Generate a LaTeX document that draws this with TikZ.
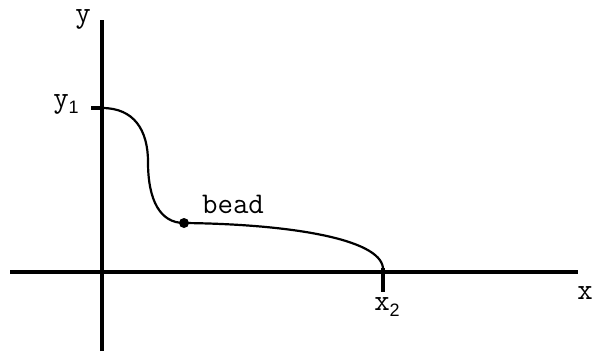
\documentclass[tikz,border=0pt]{standalone}
\usepackage{fontspec}
\newfontfamily\subfont{Liberation Sans}
\begin{document}
\begin{tikzpicture}[x=1pt,y=-1pt,
  axis/.style={line width=3.2pt},
  curve/.style={line width=2.2pt},
  lbl/.style={font=\ttfamily\fontsize{30}{30}\selectfont, inner sep=0pt}]
\useasboundingbox (0,0) rectangle (594,351);
% axes
\coordinate (ytop) at (102,20);
\coordinate (ybot) at (102,351);
\coordinate (xl) at (10,272);
\coordinate (xr) at (578,272);
\draw[axis] (ybot) -- (ytop);
\draw[axis] (xl) -- (xr);
% ticks
\coordinate (y1a) at (91,108);
\coordinate (y1b) at (102,108);
\coordinate (x2a) at (383,268);
\coordinate (x2b) at (383,292);
\draw[axis] (y1a) -- (y1b);
\draw[axis] (x2a) -- (x2b);
% curve
\coordinate (mid) at (148,162);
\node[circle, fill=black, inner sep=0pt, minimum size=10pt] (bead) at (184,223) {};
\draw[curve] (y1b) .. controls (134,108) and (148,130) .. (mid)
  .. controls (148,200) and (160,223) .. (bead.center)
  .. controls (285,224) and (380,238) .. (x2a);
% labels
\node[lbl] (ylab) at (83,19) {y};
\node[lbl] (y1lab) at (66,104) {y\raisebox{-6pt}{\subfont\fontsize{18}{18}\selectfont 1}};
\node[lbl] (beadlab) at (233,204) {bead};
\node[lbl] (xlab) at (585,293) {x};
\node[lbl] (x2lab) at (387,307) {x\raisebox{-6pt}{\subfont\fontsize{18}{18}\selectfont 2}};
\end{tikzpicture}
\end{document}
